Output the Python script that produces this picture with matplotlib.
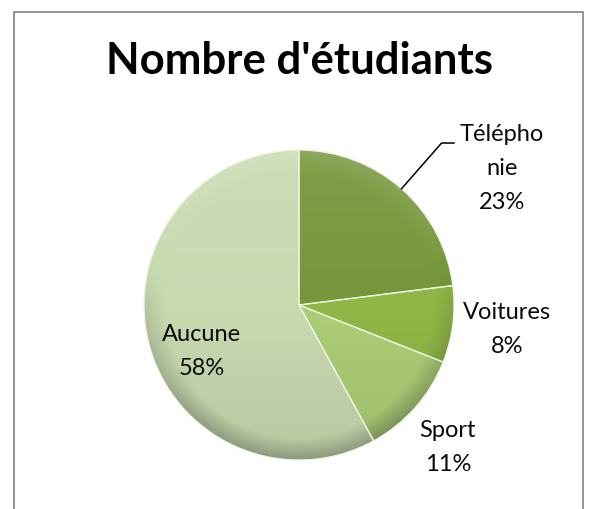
import numpy as np
import matplotlib.pyplot as plt
from matplotlib.colors import to_rgb
from matplotlib.patches import Rectangle

# data
categories = ['Télépho\nnie', 'Voitures', 'Sport', 'Aucune']
percents = [23, 8, 11, 58]
slice_colors = ['#76963A', '#8FB746', '#ADCD76', '#C8DAB0']
title = "Nombre d'étudiants"

# label centres, in pie radius units (layout only)
label_pos = [(1.31, 0.88), (1.34, -0.16), (0.96, -0.92), (-0.63, -0.30)]

W, H = 594, 509
fig = plt.figure(figsize=(W / 100, H / 100), dpi=100)

# chart border
fig.patches.append(Rectangle((14 / W, -0.02), (583 - 14) / W, (H - 12) / H + 0.02,
                             transform=fig.transFigure, fill=False,
                             edgecolor='#8C8C8C', linewidth=1.3))

cx, cy, r = 299, H - 305, 155
ax = fig.add_axes([(cx - r) / W, (cy - r) / H, 2 * r / W, 2 * r / H])

wedges, _ = ax.pie(percents, startangle=90, counterclock=False,
                   colors=slice_colors, radius=1, frame=False,
                   wedgeprops=dict(linewidth=0.9, edgecolor='#EEF4E4'))

# soft shading inside each slice, a bit like the Excel bevel
yy, xx = np.mgrid[1:-1:400j, -1:1:400j]
rr = np.hypot(xx, yy)
rim = np.clip((rr - 0.86) / 0.14, 0, 1)
f = 0.08 * yy - 0.22 * rim * np.clip(0.4 - 0.8 * yy, 0, 1) + 0.10 * rim * np.clip(yy, 0, 1)
for w, col in zip(wedges, slice_colors):
    base = np.array(to_rgb(col))
    ff = f[..., None]
    img = np.where(ff > 0, base + (1 - base) * ff, base * (1 + ff))
    im = ax.imshow(np.clip(img, 0, 1), extent=(-1, 1, -1, 1), aspect='auto',
                   zorder=1.5, interpolation='bilinear')
    im.set_clip_path(w)
    w.set_facecolor('none')
    w.set_zorder(2)

ax.set_xlim(-1, 1)
ax.set_ylim(-1, 1)
ax.axis('off')

# labels
for name, pct, (lx, ly) in zip(categories, percents, label_pos):
    ax.text(lx, ly, f'{name}\n{pct}%', ha='center', va='center',
            fontsize=17, family='Lato', linespacing=1.75,
            color='#0A0A0A', clip_on=False)

# leader line for the first slice
mid = np.deg2rad(90 - percents[0] / 100 * 360 / 2)
sx, sy = np.cos(mid), np.sin(mid)
ax.plot([sx, 0.92, 1.0], [sy, 1.045, 1.045], color='black', lw=1.1,
        clip_on=False, zorder=3)

fig.text(cx / W, (H - 61) / H, title, ha='center', va='center',
         fontsize=31.5, fontweight='bold', family='Lato')

fig.savefig('out.png', dpi=100)
